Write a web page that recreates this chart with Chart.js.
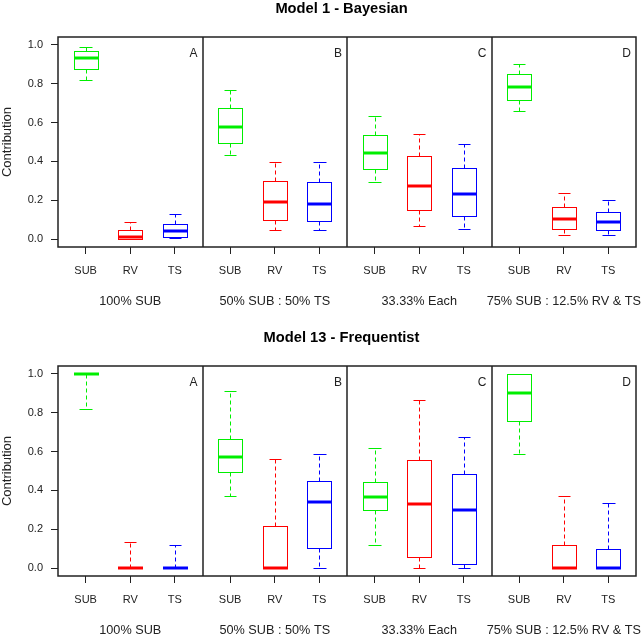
<!DOCTYPE html>
<html><head><meta charset="utf-8">
<script src="https://cdn.jsdelivr.net/npm/chart.js@4/dist/chart.umd.min.js"></script>
<style>
html,body{margin:0;padding:0;background:#fff;}
.wrap{position:absolute;left:0;width:644px;height:306px;}
canvas{display:block;}
</style></head><body>
<div class="wrap" style="top:0"><canvas id="c1" width="644" height="306"></canvas></div>
<div class="wrap" style="top:329px"><canvas id="c2" width="644" height="306"></canvas></div>
<script>
// ---- data ----
const groups = ['100% SUB', '50% SUB : 50% TS', '33.33% Each', '75% SUB : 12.5% RV & TS'];
const panelLetters = ['A', 'B', 'C', 'D'];
const sources = ['SUB', 'RV', 'TS'];
const yTicks = [0, 0.2, 0.4, 0.6, 0.8, 1.0];
const titles = ['Model 1 - Bayesian', 'Model 13 - Frequentist'];
// each entry: [lower whisker, Q1, median, Q3, upper whisker], one per panel A-D
const m1_SUB = [[0.820, 0.875, 0.930, 0.969, 0.991], [0.432, 0.497, 0.578, 0.674, 0.768], [0.294, 0.361, 0.441, 0.535, 0.632], [0.662, 0.718, 0.783, 0.850, 0.903]];
const m1_RV  = [[0.000, 0.002, 0.012, 0.046, 0.091], [0.048, 0.101, 0.190, 0.301, 0.397], [0.067, 0.149, 0.275, 0.427, 0.540], [0.024, 0.051, 0.106, 0.168, 0.236]];
const m1_TS  = [[0.004, 0.014, 0.041, 0.079, 0.128], [0.048, 0.096, 0.183, 0.294, 0.395], [0.053, 0.120, 0.234, 0.368, 0.492], [0.021, 0.046, 0.087, 0.142, 0.203]];
const m13_SUB = [[0.821, 1.000, 1.000, 1.000, 1.000], [0.374, 0.496, 0.573, 0.664, 0.913], [0.118, 0.299, 0.366, 0.441, 0.619], [0.587, 0.757, 0.899, 1.000, 1.000]];
const m13_RV  = [[0.000, 0.000, 0.000, 0.000, 0.133], [0.000, 0.000, 0.000, 0.217, 0.563], [0.000, 0.056, 0.332, 0.559, 0.865], [0.000, 0.000, 0.000, 0.120, 0.374]];
const m13_TS  = [[0.000, 0.000, 0.000, 0.000, 0.120], [0.000, 0.106, 0.339, 0.448, 0.585], [0.000, 0.022, 0.299, 0.487, 0.675], [0.000, 0.000, 0.000, 0.097, 0.338]];

// ---- styling / layout ----
const colors = ['#00EE00', '#FF0000', '#0000FF'];
const FONT = '"Liberation Sans", Arial, Helvetica, sans-serif';
const INK = '#222';
const PANEL = 3.24;          // width of one sub-panel in x units
const XMIN = 0.38;
const XMAX = XMIN + 4 * PANEL;
const positions = [];
for (let p = 0; p < 4; p++) for (let s = 0; s < 3; s++) positions.push(1 + p * PANEL + s);

Chart.defaults.font.family = FONT;

function makeChart(id, title, series) {
  const boxPlugin = {
    id: 'boxes',
    afterDatasetsDraw(chart) {
      const {ctx, scales: {x, y}} = chart;
      ctx.save();
      for (let p = 0; p < 4; p++) {
        for (let s = 0; s < 3; s++) {
          const d = series[s][p];
          const c = 1 + p * PANEL + s;
          const cx = Math.round(x.getPixelForValue(c)) + 0.5;
          const bl = Math.round(x.getPixelForValue(c - 0.27)) + 0.5;
          const br = Math.round(x.getPixelForValue(c + 0.27)) + 0.5;
          const cl = Math.round(x.getPixelForValue(c - 0.14)) + 0.5;
          const cr = Math.round(x.getPixelForValue(c + 0.14)) + 0.5;
          const py = v => Math.round(y.getPixelForValue(v)) + 0.5;
          const [lo, q1, med, q3, hi] = d;
          ctx.strokeStyle = colors[s];
          ctx.lineWidth = 1;
          // whiskers (dashed)
          ctx.setLineDash([4, 3]);
          ctx.beginPath();
          ctx.moveTo(cx, py(q3)); ctx.lineTo(cx, py(hi));
          ctx.moveTo(cx, py(q1)); ctx.lineTo(cx, py(lo));
          ctx.stroke();
          ctx.setLineDash([]);
          // caps
          ctx.beginPath();
          ctx.moveTo(cl, py(hi)); ctx.lineTo(cr, py(hi));
          ctx.moveTo(cl, py(lo)); ctx.lineTo(cr, py(lo));
          ctx.stroke();
          // box
          ctx.strokeRect(bl, py(q3), br - bl, py(q1) - py(q3));
          // median
          ctx.lineWidth = 3;
          ctx.beginPath();
          const my = Math.round(y.getPixelForValue(med));
          ctx.moveTo(bl - 0.5, my); ctx.lineTo(br + 0.5, my);
          ctx.stroke();
        }
      }
      ctx.restore();
    },
    afterDraw(chart) {
      const {ctx, chartArea: a, scales: {x}} = chart;
      ctx.save();
      ctx.strokeStyle = INK;
      ctx.lineWidth = 1.5;
      ctx.strokeRect(Math.round(a.left), Math.round(a.top), Math.round(a.right - a.left), Math.round(a.bottom - a.top));
      ctx.beginPath();
      for (let p = 1; p < 4; p++) {
        const dx = Math.round(x.getPixelForValue(XMIN + p * PANEL));
        ctx.moveTo(dx, a.top); ctx.lineTo(dx, a.bottom);
      }
      ctx.stroke();
      ctx.fillStyle = INK;
      // panel letters
      ctx.font = '12px ' + FONT;
      ctx.textAlign = 'right';
      ctx.textBaseline = 'alphabetic';
      for (let p = 0; p < 4; p++) {
        ctx.fillText(panelLetters[p], x.getPixelForValue(XMIN + (p + 1) * PANEL) - 5, a.top + 20);
      }
      // group labels
      ctx.font = '12.7px ' + FONT;
      ctx.textAlign = 'center';
      for (let p = 0; p < 4; p++) {
        ctx.fillText(groups[p], x.getPixelForValue(XMIN + (p + 0.5) * PANEL), 304.5);
      }
      // title
      ctx.fillStyle = '#000';
      ctx.font = 'bold 14.7px ' + FONT;
      ctx.fillText(title, 341.5, 12.8);
      ctx.restore();
    }
  };

  return new Chart(document.getElementById(id), {
    type: 'scatter',
    data: {datasets: []},
    options: {
      responsive: false,
      animation: false,
      devicePixelRatio: 1,
      layout: {padding: {top: 37, right: 8, left: 0, bottom: 0}},
      plugins: {legend: {display: false}, tooltip: {enabled: false}, title: {display: false}},
      scales: {
        x: {
          type: 'linear', min: XMIN, max: XMAX,
          afterBuildTicks: s => { s.ticks = positions.map(v => ({value: v})); },
          afterFit: s => { s.height = 59; },
          ticks: {
            autoSkip: false, maxRotation: 0, padding: 10, color: INK,
            font: {size: 11, family: FONT},
            callback: (v, i) => sources[i % 3]
          },
          grid: {drawOnChartArea: false, drawTicks: true, tickLength: 7, color: INK, tickColor: INK},
          border: {display: false}
        },
        y: {
          type: 'linear', min: -0.04, max: 1.04,
          afterBuildTicks: s => { s.ticks = yTicks.map(v => ({value: v})); },
          afterFit: s => { s.width = 58; },
          ticks: {
            padding: 8, color: INK, font: {size: 11, family: FONT},
            callback: v => Number(v).toFixed(1)
          },
          title: {display: true, text: 'Contribution', color: INK, font: {size: 13, family: FONT}, padding: 0},
          grid: {drawOnChartArea: false, drawTicks: true, tickLength: 7, color: INK, tickColor: INK},
          border: {display: false}
        }
      }
    },
    plugins: [boxPlugin]
  });
}

makeChart('c1', titles[0], [m1_SUB, m1_RV, m1_TS]);
makeChart('c2', titles[1], [m13_SUB, m13_RV, m13_TS]);
</script>
</body></html>
